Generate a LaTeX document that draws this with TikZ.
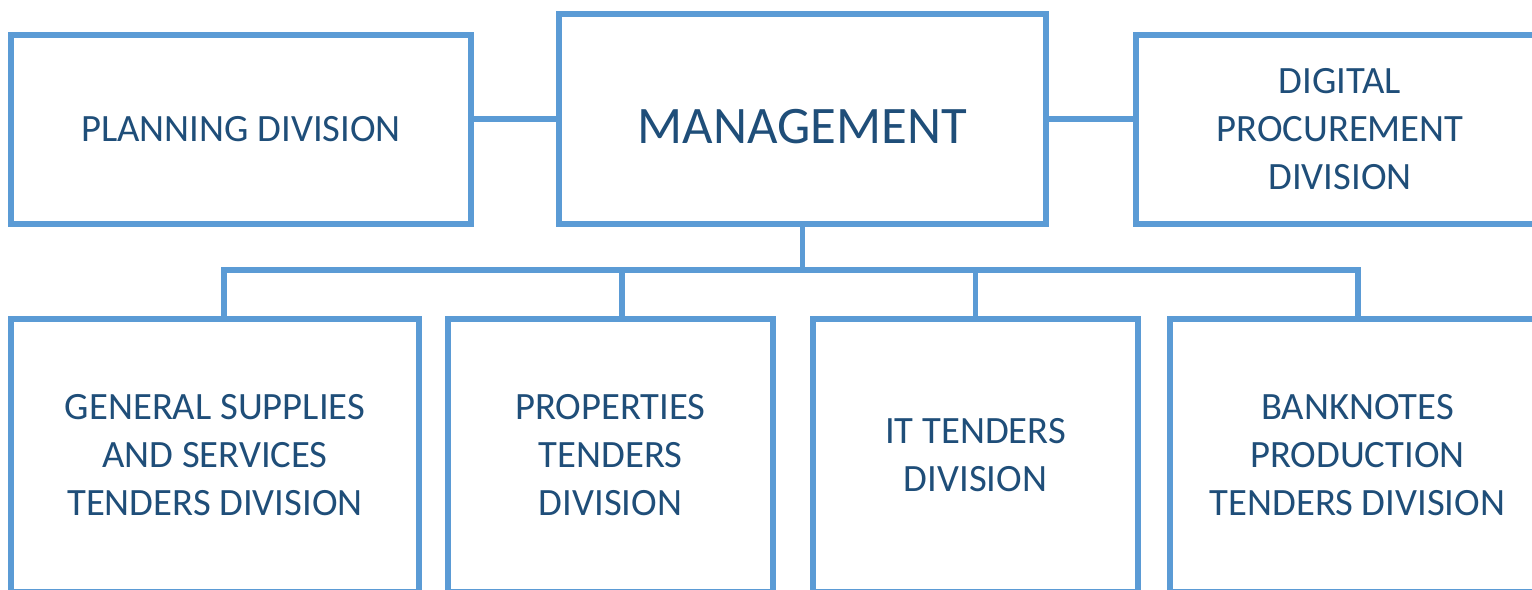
\documentclass[tikz,border=0pt]{standalone}
\usepackage{fontspec}
\setmainfont{Carlito}
\usepackage{xcolor}
\usetikzlibrary{positioning,calc}
\definecolor{boxline}{HTML}{5B9BD5}
\definecolor{boxtext}{HTML}{1F4E79}
\tikzset{
  unit/.style={draw=boxline,line width=3.4pt,fill=white,align=center,
    text=boxtext,inner sep=0pt,font=\fontsize{22}{27.3}\selectfont},
  link/.style={draw=boxline,line width=3.4pt}
}

\begin{document}
\begin{tikzpicture}[x=0.02cm,y=-0.02cm]
\useasboundingbox (0,0) rectangle (1532,589);
\clip (0,0) rectangle (1532,589);
% top row
\node[unit,minimum width=9.74cm,minimum height=4.2cm,text height=1.0cm,font=\fontsize{30}{36}\selectfont] (mgmt) at (802.5,119) {MANAGEMENT};
\node[unit,minimum width=9.2cm,minimum height=3.78cm] (plan) at (241,129.5) {PLANNING DIVISION};
\node[unit,minimum width=8.16cm,minimum height=3.78cm] (digital) at (1340,129.5) {DIGITAL\\PROCUREMENT\\DIVISION};
% bottom row
\node[unit,minimum width=8.16cm,minimum height=5.46cm] (general) at (215,455.5) {GENERAL SUPPLIES\\AND SERVICES\\TENDERS DIVISION};
\node[unit,minimum width=6.5cm,minimum height=5.46cm] (properties) at (610.5,455.5) {PROPERTIES\\TENDERS\\DIVISION};
\node[unit,minimum width=6.5cm,minimum height=5.46cm] (it) at (975.5,455.5) {IT TENDERS\\DIVISION};
\node[unit,minimum width=7.5cm,minimum height=5.46cm] (banknotes) at (1357.5,455.5) {BANKNOTES\\PRODUCTION\\TENDERS DIVISION};
% links
\coordinate (bus) at (802.5,270);
\draw[link] (mgmt.west) -- (plan.east |- mgmt.west);
\draw[link] (mgmt.east) -- (digital.west |- mgmt.east);
\draw[link] (mgmt.south) -- (bus);
\draw[link,line cap=rect] ([xshift=0.18cm]general.north) |- (bus) -| (banknotes.north);
\draw[link] ([xshift=0.23cm]properties.north) -- ([xshift=0.23cm]properties.north |- bus);
\draw[link] (it.north) -- (it.north |- bus);
\end{tikzpicture}
\end{document}
